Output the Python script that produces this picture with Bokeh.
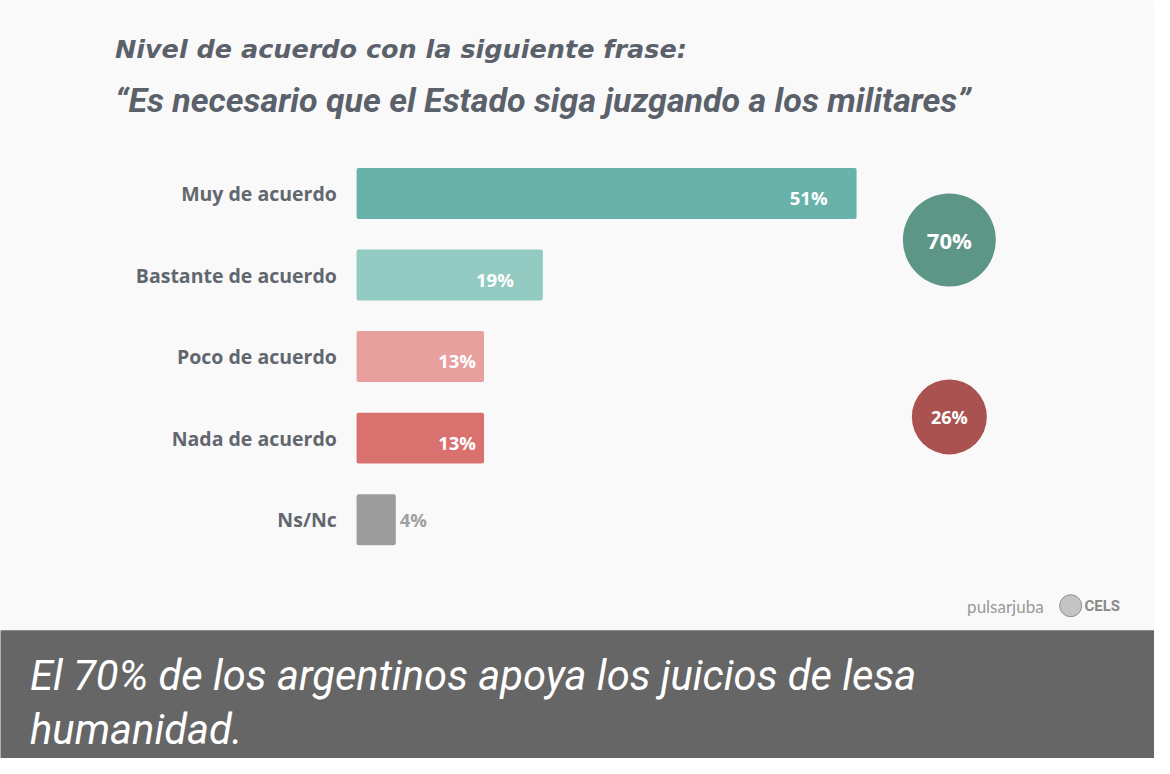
from bokeh.plotting import figure
from bokeh.models import Range1d, BoxAnnotation
from bokeh.core.properties import value
from bokeh.embed import file_html
from bokeh.resources import INLINE

# ---- data ----
categories = ["Muy de acuerdo", "Bastante de acuerdo", "Poco de acuerdo", "Nada de acuerdo", "Ns/Nc"]
values = [51, 19, 13, 13, 4]
bar_colors = ["#69b2a9", "#93cbc3", "#e8a09f", "#d9716f", "#9d9d9d"]
group_totals = [70, 26]
group_labels = ["70%", "26%"]
group_rows = [(0, 1), (2, 3)]
group_colors = ["#5d9686", "#a9524f"]
title_1 = "Nivel de acuerdo con la siguiente frase:"
title_2 = "\u201cEs necesario que el Estado siga juzgando a los militares\u201d"
caption_1 = "El 70% de los argentinos apoya los juicios de lesa"
caption_2 = "humanidad."

# ---- layout helpers (reference pixel -> data) ----
W, H = 1154, 758
SX, SY = W / 1170, H / 774
PX_PER_PCT = 9.94 * SX
X0 = 361.0 * SX        # figure px of 0 %
ROW0 = 197.0 * SY      # figure px of first row centre
PITCH = 83.3 * SY

def dx(ref_x):
    return (ref_x * SX - X0) / PX_PER_PCT

def dy(ref_y):
    return (ref_y * SY - ROW0) / PITCH

p = figure(width=W, height=H, output_backend="svg", toolbar_location=None,
           x_range=Range1d(dx(0), dx(1170)), y_range=Range1d(dy(774), dy(0)),
           min_border=0, background_fill_color="#f9f9f9", border_fill_color="#f9f9f9")
p.axis.visible = False
p.grid.visible = False
p.outline_line_color = None

# caption band
p.add_layout(BoxAnnotation(left=dx(-20), right=dx(1200), top=dy(643), bottom=dy(800),
                           fill_color="#666666", fill_alpha=1.0, line_color=None, level="underlay"))

rows = list(range(len(categories)))
p.hbar(y=rows, left=0, right=values, height=52 / 83.3, fill_color=bar_colors, line_color=None,
       border_radius=2)

# category labels
p.text(x=[dx(341)] * len(rows), y=rows, text=categories, text_align="right", text_baseline="middle",
       text_font=value("Open Sans"), text_font_size="19.5px", text_font_style="bold", text_color="#62676f")

# value labels
inside = [i for i, v in enumerate(values) if v >= 10]
outside = [i for i, v in enumerate(values) if v < 10]
big = [i for i in inside if values[i] > 15]
small = [i for i in inside if values[i] <= 15]
for idxs, off in ((big, -29), (small, -8)):
    p.text(x=[values[i] for i in idxs], y=[rows[i] for i in idxs], text=[f"{values[i]}%" for i in idxs],
           x_offset=off, y_offset=4, text_align="right", text_baseline="middle",
           text_font=value("Open Sans"), text_font_size="18.5px", text_font_style="bold", text_color="#ffffff")
p.text(x=[values[i] for i in outside], y=[rows[i] for i in outside], text=[f"{values[i]}%" for i in outside],
       x_offset=4, y_offset=0, text_align="left", text_baseline="middle",
       text_font=value("Open Sans"), text_font_size="18.5px", text_font_style="bold", text_color="#a0a0a0")

# group circles
gx = [dx(962)] * len(group_totals)
gy = [sum(r) / 2 + o for r, o in zip(group_rows, (0.07, 0.24))]
sizes = [93, 75]
p.scatter(x=gx, y=gy, size=sizes, marker="circle", fill_color=group_colors, line_color=None)
p.text(x=gx, y=gy, text=group_labels, text_align="center", text_baseline="middle",
       text_font=value("Open Sans"), text_font_size=["22px", "18px"], text_font_style="bold",
       text_color="#ffffff")

# titles
p.text(x=[dx(116)], y=[dy(50)], text=[title_1], text_align="left", text_baseline="middle",
       text_font=value("DejaVu Sans"), text_font_size="25.5px", text_font_style="bold italic", text_color="#5b616b")
p.text(x=[dx(116)], y=[dy(102)], text=[title_2], text_align="left", text_baseline="middle",
       text_font=value("Roboto"), text_font_size="34px", text_font_style="bold italic", text_color="#5b616b")

# logos
p.text(x=[dx(980)], y=[dy(619)], text=["pulsarjuba"], text_align="left", text_baseline="middle",
       text_font=value("Lato"), text_font_size="17px", text_color="#9a9a9a")
p.scatter(x=[dx(1085)], y=[dy(618)], size=22, marker="circle", fill_color="#c4c4c4", line_color="#8f8f8f")
p.text(x=[dx(1099)], y=[dy(618)], text=["CELS"], text_align="left", text_baseline="middle",
       text_font=value("Roboto"), text_font_size="15px", text_font_style="bold", text_color="#8a8a8a")

# caption
p.text(x=[dx(30)], y=[dy(689)], text=[caption_1], text_align="left", text_baseline="middle",
       text_font=value("Roboto"), text_font_size="41.7px", text_font_style="italic", text_color="#ffffff")
p.text(x=[dx(30)], y=[dy(744)], text=[caption_2], text_align="left", text_baseline="middle",
       text_font=value("Roboto"), text_font_size="41.7px", text_font_style="italic", text_color="#ffffff")

open("out.html", "w").write(file_html(p, INLINE))
